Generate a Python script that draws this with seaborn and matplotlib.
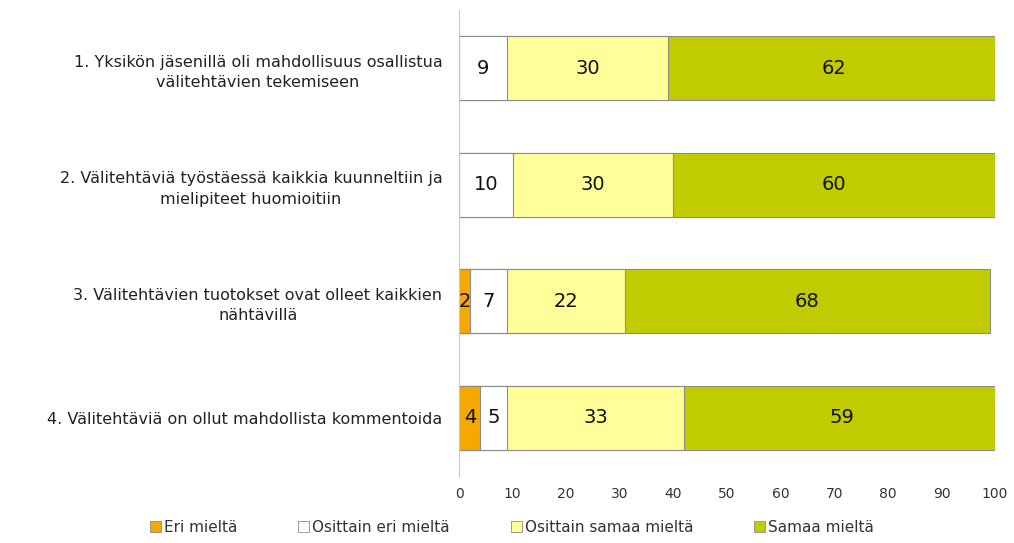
import pandas as pd
import seaborn as sns
import matplotlib.pyplot as plt
from matplotlib.patches import Patch

# Data
questions = [
    "1. Yksikön jäsenillä oli mahdollisuus osallistua\nvälitehtävien tekemiseen",
    "2. Välitehtäviä työstäessä kaikkia kuunneltiin ja\nmielipiteet huomioitiin",
    "3. Välitehtävien tuotokset ovat olleet kaikkien\nnähtävillä",
    "4. Välitehtäviä on ollut mahdollista kommentoida",
]
eri = [0, 0, 2, 4]
osittain_eri = [9, 10, 7, 5]
osittain_samaa = [30, 30, 22, 33]
samaa = [62, 60, 68, 59]

series = ["Eri mieltä", "Osittain eri mieltä", "Osittain samaa mieltä", "Samaa mieltä"]
colors = ["#F5A800", "#FFFFFF", "#FFFF99", "#C0CC00"]

df = pd.DataFrame({"question": questions, series[0]: eri, series[1]: osittain_eri,
                   series[2]: osittain_samaa, series[3]: samaa})
cum = df[series].cumsum(axis=1)

sns.set_style("white")
fig = plt.figure(figsize=(10.14, 5.43), dpi=100)
ax = fig.add_axes([0.4527, 0.1234, 0.5286, 0.8582])

# Stacked bars: draw cumulative totals from the widest down
for s, c in reversed(list(zip(series, colors))):
    sns.barplot(x=cum[s], y=df["question"], color=c, orient="h", width=0.55,
                edgecolor="#8C8C8C", linewidth=0.8, saturation=1, ax=ax)

# Value labels
for i in range(len(df)):
    left = 0
    for s in series:
        v = df[s].iloc[i]
        if v > 0:
            ax.text(left + v / 2, i, str(v), ha="center", va="center",
                    fontsize=14, color="#111111")
        left += v

ax.set_xlim(0, 100)
ax.set_xticks(range(0, 101, 10))
ax.set_xlabel("")
ax.set_ylabel("")
ax.tick_params(axis="x", colors="#333333", labelsize=10, length=0, pad=8)
ax.tick_params(axis="y", colors="#222222", labelsize=11.5, length=0, pad=12)
for lbl in ax.get_yticklabels():
    lbl.set_multialignment("center")
    lbl.set_linespacing(1.45)

sns.despine(ax=ax, top=True, right=True, bottom=True)
ax.spines["left"].set_color("#C8C8C8")

handles = [Patch(facecolor=c, edgecolor="#8C8C8C", linewidth=0.6) for c in colors]
fig.legend(handles, series, loc="lower center", bbox_to_anchor=(0.505, -0.01), ncol=4,
           frameon=False, fontsize=11, handlelength=0.7, handleheight=0.7,
           handletextpad=0.2, columnspacing=4.0, labelcolor="#333333")

plt.savefig("out.png", dpi=100)
